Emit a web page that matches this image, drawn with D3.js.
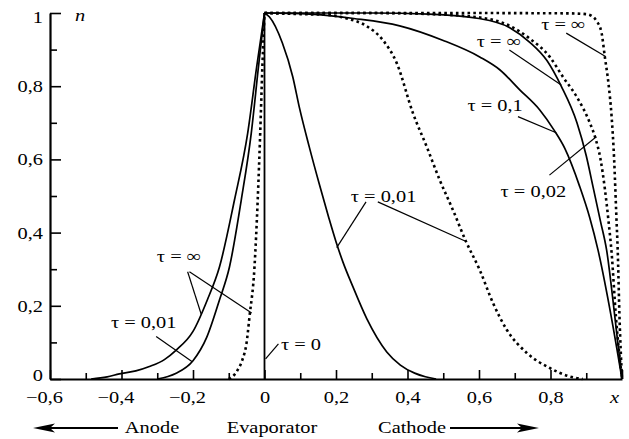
<!DOCTYPE html>
<html><head><meta charset="utf-8">
<script src="https://cdn.jsdelivr.net/npm/d3@7"></script>
<style>
body{margin:0;background:#fff}
svg{display:block}
</style>
</head><body>
<svg id="c" width="629" height="439"></svg>
<script>
// ---------- data ----------
const xMajorTicks = [-0.6,-0.4,-0.2,0,0.2,0.4,0.6,0.8,1.0];
const xMinorTicks = [-0.5,-0.3,-0.1,0.1,0.3,0.5,0.7,0.9];
const xTickLabels = ["−0,6","−0,4","−0,2","0","0,2","0,4","0,6","0,8","x"];
const yMajorTicks = [0,0.2,0.4,0.6,0.8,1.0];
const yMinorTicks = [0.1,0.3,0.5,0.7,0.9];
const yTickLabels = ["0","0,2","0,4","0,6","0,8","1"];

// solid curves
const solidInfLeft = [[-0.485,0],[-0.44,0.006],[-0.406,0.014],[-0.36,0.022],[-0.322,0.034],[-0.28,0.053],[-0.247,0.079],[-0.2,0.13],[-0.16,0.216],[-0.126,0.306],[-0.084,0.489],[-0.047,0.672],[-0.022,0.852],[0,1]];
const solid001Left = [[-0.3,0],[-0.27,0.007],[-0.247,0.016],[-0.2,0.05],[-0.162,0.113],[-0.126,0.216],[-0.098,0.306],[-0.065,0.489],[-0.037,0.672],[-0.017,0.852],[0,1]];
const solidInfRight = [[0,1],[0.3,1],[0.46,0.997],[0.6,0.985],[0.686,0.96],[0.742,0.92],[0.79,0.87],[0.83,0.8],[0.874,0.7],[0.9,0.61],[0.919,0.525],[0.94,0.43],[0.957,0.352],[0.98,0.17],[1,0]];
const solid01Right = [[0,1],[0.126,0.997],[0.25,0.985],[0.378,0.965],[0.5,0.925],[0.602,0.88],[0.658,0.845],[0.714,0.79],[0.77,0.735],[0.81,0.68],[0.84,0.63],[0.882,0.525],[0.91,0.44],[0.933,0.352],[0.97,0.17],[1,0]];
const solid001Right = [[0,1],[0.014,0.989],[0.05,0.918],[0.079,0.826],[0.098,0.74],[0.125,0.635],[0.154,0.53],[0.18,0.44],[0.2,0.375],[0.22,0.318],[0.246,0.255],[0.286,0.165],[0.342,0.074],[0.38,0.038],[0.42,0.016],[0.45,0.006],[0.48,0]];
const tau0 = [[0,0],[0,1]];

// dotted curves
const dottedInfLeft = [[-0.1,0],[-0.09,0.006],[-0.075,0.025],[-0.062,0.052],[-0.05,0.1],[-0.042,0.17],[-0.028,0.306],[-0.019,0.489],[-0.012,0.672],[-0.006,0.852],[0,1]];
const dotted001Right = [[0,1],[0.1,0.997],[0.17,0.995],[0.23,0.985],[0.286,0.964],[0.331,0.926],[0.37,0.863],[0.415,0.727],[0.454,0.634],[0.49,0.544],[0.527,0.462],[0.563,0.377],[0.602,0.298],[0.639,0.208],[0.678,0.134],[0.734,0.071],[0.798,0.03],[0.85,0.008],[0.89,0]];
const dotted002Right = [[0,1],[0.3,1],[0.46,0.997],[0.6,0.988],[0.686,0.965],[0.742,0.93],[0.798,0.88],[0.835,0.825],[0.874,0.77],[0.91,0.7],[0.925,0.66],[0.94,0.6],[0.952,0.52],[0.962,0.434],[0.971,0.344],[0.983,0.17],[1,0]];
const dottedInfRight = [[0,1],[0.5,1],[0.85,0.999],[0.899,0.997],[0.915,0.992],[0.929,0.978],[0.943,0.945],[0.952,0.88],[0.962,0.809],[0.971,0.716],[0.978,0.6],[0.984,0.45],[0.988,0.352],[0.993,0.17],[1,0]];

// annotations: label text, label centre (data units), leader segments (data units)
const annLabels = ["τ = ∞","τ = ∞","τ = 0,1","τ = 0,02","τ = 0,01","τ = ∞","τ = 0,01","τ = 0"];
const annPos = [[0.836,0.954],[0.656,0.907],[0.645,0.732],[0.752,0.497],[0.333,0.484],[-0.239,0.320],[-0.338,0.139],[0.102,0.079]];
const annLeaders = [
  [[0.844,0.945],[0.954,0.881]],
  [[0.685,0.899],[0.830,0.803]],
  [[0.709,0.717],[0.816,0.673]],
  [[0.797,0.557],[0.928,0.662]],
  [[0.284,0.484],[0.202,0.359]],
  [[0.317,0.484],[0.561,0.377]],
  [[-0.215,0.293],[-0.177,0.177]],
  [[-0.210,0.293],[-0.036,0.180]],
  [[-0.303,0.116],[-0.202,0.047]],
  [[0.039,0.096],[0.003,0.055]]
];
const bottomLabels = ["Anode","Evaporator","Cathode"];

// ---------- chart ----------
const FONT = '"Liberation Serif", "Times New Roman", serif';
const FS = 17, SX = 1.2;
function txt(sel){
  return sel.style("font-family", FONT).style("font-size", FS+"px").style("fill","#000");
}
const place = (X, Y) => `translate(${X},${Y}) scale(${SX},1)`;

const svg = d3.select("#c");
const x = d3.scaleLinear().domain([-0.6,1]).range([50,622]);
const y = d3.scaleLinear().domain([0,1]).range([379,13]);

const line = d3.line().x(d=>x(d[0])).y(d=>y(d[1])).curve(d3.curveMonotoneX);
const lineLin = d3.line().x(d=>x(d[0])).y(d=>y(d[1]));

// curves
const gC = svg.append("g").attr("fill","none").attr("stroke","#000");
[solidInfLeft, solid001Left, solidInfRight, solid01Right, solid001Right].forEach(s=>{
  gC.append("path").attr("d", line(s)).attr("stroke-width",1.7);
});
gC.append("path").attr("d", lineLin(tau0)).attr("stroke-width",1.8);
[dottedInfLeft, dotted001Right, dotted002Right, dottedInfRight].forEach(s=>{
  gC.append("path").attr("d", line(s)).attr("stroke-width",2.6)
    .attr("stroke-dasharray","2.6,3.2").attr("stroke-linecap","butt");
});

// axes
const ax = svg.append("g").attr("transform",`translate(0,${y(0)})`)
  .call(d3.axisBottom(x).tickValues(xMajorTicks).tickSize(-9).tickSizeOuter(0).tickPadding(12)
    .tickFormat((d,i)=>xTickLabels[i]));
svg.append("g").attr("transform",`translate(0,${y(0)})`)
  .call(d3.axisBottom(x).tickValues(xMinorTicks).tickSize(-6).tickSizeOuter(0).tickFormat(""))
  .call(g=>g.select(".domain").remove());
const ay = svg.append("g").attr("transform",`translate(${x(-0.6)},0)`)
  .call(d3.axisLeft(y).tickValues(yMajorTicks).tickSize(-11).tickSizeOuter(0).tickPadding(7)
    .tickFormat((d,i)=>yTickLabels[i]));
svg.append("g").attr("transform",`translate(${x(-0.6)},0)`)
  .call(d3.axisLeft(y).tickValues(yMinorTicks).tickSize(-7).tickSizeOuter(0).tickFormat(""))
  .call(g=>g.select(".domain").remove());

svg.selectAll("g").attr("font-family", null).attr("font-size", null);
svg.selectAll(".domain").attr("stroke","#000").attr("stroke-width",2.2);
svg.selectAll(".tick line").attr("stroke","#000").attr("stroke-width",1.6);
txt(svg.selectAll(".tick text"));
ax.selectAll(".tick text")
  .attr("dy", null).attr("x", 0).attr("y", 0)
  .attr("transform",(d)=> place(d<0 ? -6 : (d===1 ? -8 : 0), 24))
  .style("font-style",(d)=> d===1 ? "italic" : null);
ay.selectAll(".tick text")
  .attr("dy", null).attr("x", 0).attr("y", 0)
  .attr("transform",(d)=> place(-7, d===1 ? 9 : (d===0 ? 1 : 5.5)));

// axis name n
txt(svg.append("text").attr("transform", place(x(-0.6)+25, y(1)+8)))
  .style("font-style","italic").text("n");

// annotations
const gA = svg.append("g");
annLeaders.forEach(s=>{
  gA.append("path").attr("d",lineLin(s)).attr("stroke","#000").attr("stroke-width",1.2).attr("fill","none");
});
annLabels.forEach((t,i)=>{
  txt(gA.append("text").attr("transform", place(x(annPos[i][0]), y(annPos[i][1]))))
    .attr("text-anchor","middle").text(t);
});

// bottom labels and arrows
const by = 433;
const bx = [152,272,412];
bottomLabels.forEach((t,i)=>{
  txt(svg.append("text").attr("transform", place(bx[i], by))).attr("text-anchor","middle").text(t);
});
const ay0 = 428;
svg.append("line").attr("x1",118).attr("x2",44).attr("y1",ay0).attr("y2",ay0)
  .attr("stroke","#000").attr("stroke-width",2.2);
svg.append("path").attr("d",`M33,${ay0} L55,${ay0-4.5} L50,${ay0} L55,${ay0+4.5} Z`).attr("fill","#000");
svg.append("line").attr("x1",450).attr("x2",526).attr("y1",ay0).attr("y2",ay0)
  .attr("stroke","#000").attr("stroke-width",2.2);
svg.append("path").attr("d",`M539,${ay0} L517,${ay0-4.5} L522,${ay0} L517,${ay0+4.5} Z`).attr("fill","#000");
</script>
</body></html>
